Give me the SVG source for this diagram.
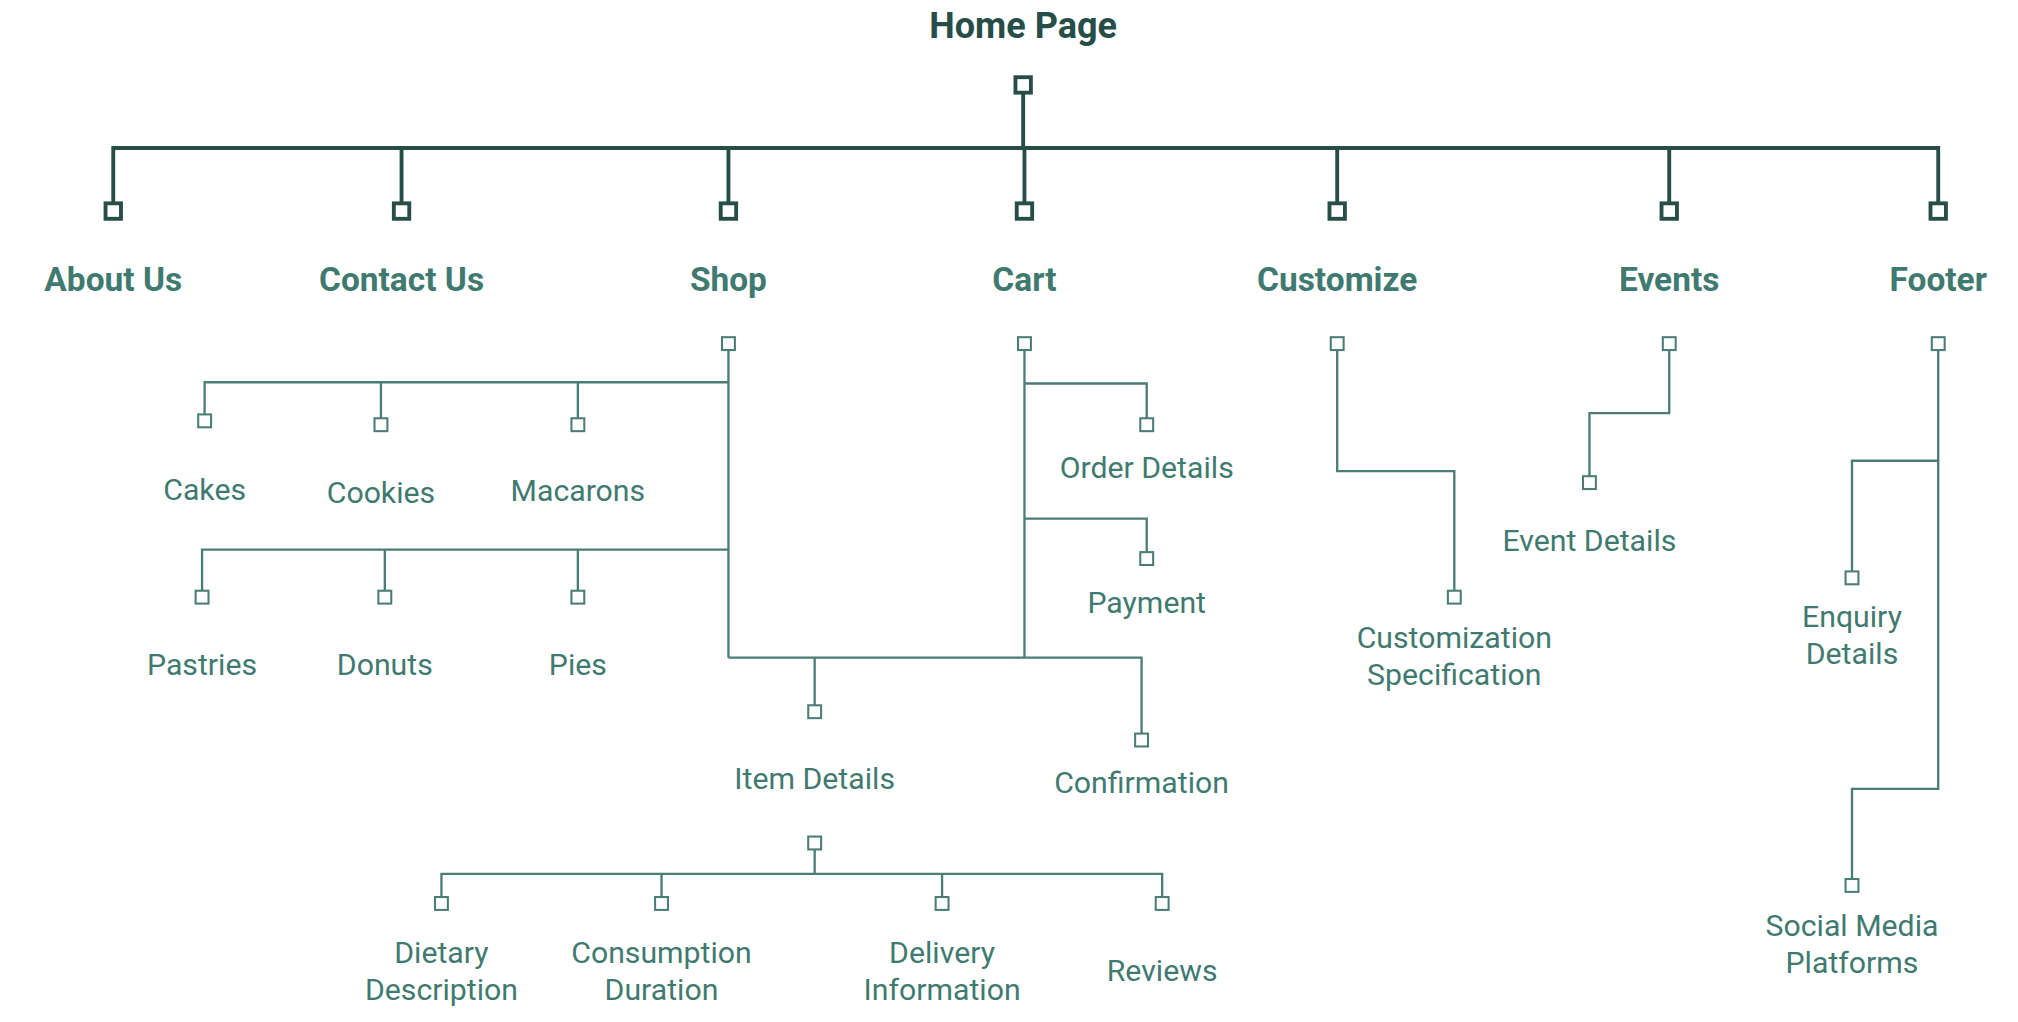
<svg xmlns="http://www.w3.org/2000/svg" width="2018" height="1022" viewBox="0 0 2018 1022">
<style>
.t{font-family:Roboto,"Liberation Sans",sans-serif;text-anchor:middle;dominant-baseline:central}
.h{font-size:28px;font-weight:bold;fill:#264d47}
.l1{font-size:26px;font-weight:bold;fill:#3f7a70}
.l2{font-size:23.5px;fill:#3f7a70}
.c1{fill:none;stroke:#264d47;stroke-width:3}
.c2{fill:none;stroke:#4a7d74;stroke-width:1.8}
.s1{fill:#fff;stroke:#264d47;stroke-width:3}
.s2{fill:#fff;stroke:#4a7d74;stroke-width:1.6}
</style>
<rect width="2018" height="1022" fill="#fff"/>
<g transform="scale(1.287)">
<g id="connectors">
<path class="c1" d="M795 72V115M88 158V115H1506V158M312 115V158M566 115V158M796 115V158M1039 115V158M1297 115V158"/>
<path class="c2" d="M566 272V511M159 322V297H566M296 325V297M449 325V297M157 459V427H566M299 459V427M449 459V427M566 511H887V570M633 511V548M796 272V511M796 298H891V325M796 403H891V429M633 660V679M343 697V679H903V697M514 697V679M732 697V679M1039 272V366H1130V459M1297 272V321H1235V370M1506 272V613H1439V683M1506 358H1439V444"/>
</g>
<g id="home"><text class="t h" x="795" y="20">Home Page</text><rect class="s1" x="789" y="60" width="12" height="12"/></g>
<g id="about"><rect class="s1" x="82" y="158" width="12" height="12"/><text class="t l1" x="88" y="217">About Us</text></g>
<g id="contact"><rect class="s1" x="306" y="158" width="12" height="12"/><text class="t l1" x="312" y="217">Contact Us</text></g>
<g id="shop"><rect class="s1" x="560" y="158" width="12" height="12"/><text class="t l1" x="566" y="217">Shop</text><rect class="s2" x="561" y="262" width="10" height="10"/></g>
<g id="cart"><rect class="s1" x="790" y="158" width="12" height="12"/><text class="t l1" x="796" y="217">Cart</text><rect class="s2" x="791" y="262" width="10" height="10"/></g>
<g id="customize"><rect class="s1" x="1033" y="158" width="12" height="12"/><text class="t l1" x="1039" y="217">Customize</text><rect class="s2" x="1034" y="262" width="10" height="10"/></g>
<g id="events"><rect class="s1" x="1291" y="158" width="12" height="12"/><text class="t l1" x="1297" y="217">Events</text><rect class="s2" x="1292" y="262" width="10" height="10"/></g>
<g id="footer"><rect class="s1" x="1500" y="158" width="12" height="12"/><text class="t l1" x="1506" y="217">Footer</text><rect class="s2" x="1501" y="262" width="10" height="10"/></g>
<g id="cakes"><rect class="s2" x="154" y="322" width="10" height="10"/><text class="t l2" x="159" y="380">Cakes</text></g>
<g id="cookies"><rect class="s2" x="291" y="325" width="10" height="10"/><text class="t l2" x="296" y="383">Cookies</text></g>
<g id="macarons"><rect class="s2" x="444" y="325" width="10" height="10"/><text class="t l2" x="449" y="381">Macarons</text></g>
<g id="pastries"><rect class="s2" x="152" y="459" width="10" height="10"/><text class="t l2" x="157" y="516">Pastries</text></g>
<g id="donuts"><rect class="s2" x="294" y="459" width="10" height="10"/><text class="t l2" x="299" y="516">Donuts</text></g>
<g id="pies"><rect class="s2" x="444" y="459" width="10" height="10"/><text class="t l2" x="449" y="516">Pies</text></g>
<g id="item"><rect class="s2" x="628" y="548" width="10" height="10"/><text class="t l2" x="633" y="605">Item Details</text><rect class="s2" x="628" y="650" width="10" height="10"/></g>
<g id="confirmation"><rect class="s2" x="882" y="570" width="10" height="10"/><text class="t l2" x="887" y="608">Confirmation</text></g>
<g id="order"><rect class="s2" x="886" y="325" width="10" height="10"/><text class="t l2" x="891" y="363">Order Details</text></g>
<g id="payment"><rect class="s2" x="886" y="429" width="10" height="10"/><text class="t l2" x="891" y="468">Payment</text></g>
<g id="dietary"><rect class="s2" x="338" y="697" width="10" height="10"/><text class="t l2" x="343" y="740">Dietary</text><text class="t l2" x="343" y="769">Description</text></g>
<g id="consumption"><rect class="s2" x="509" y="697" width="10" height="10"/><text class="t l2" x="514" y="740">Consumption</text><text class="t l2" x="514" y="769">Duration</text></g>
<g id="delivery"><rect class="s2" x="727" y="697" width="10" height="10"/><text class="t l2" x="732" y="740">Delivery</text><text class="t l2" x="732" y="769">Information</text></g>
<g id="reviews"><rect class="s2" x="898" y="697" width="10" height="10"/><text class="t l2" x="903" y="754">Reviews</text></g>
<g id="custspec"><rect class="s2" x="1125" y="459" width="10" height="10"/><text class="t l2" x="1130" y="495">Customization</text><text class="t l2" x="1130" y="524">Specification</text></g>
<g id="eventdetails"><rect class="s2" x="1230" y="370" width="10" height="10"/><text class="t l2" x="1235" y="420">Event Details</text></g>
<g id="enquiry"><rect class="s2" x="1434" y="444" width="10" height="10"/><text class="t l2" x="1439" y="479">Enquiry</text><text class="t l2" x="1439" y="508">Details</text></g>
<g id="social"><rect class="s2" x="1434" y="683" width="10" height="10"/><text class="t l2" x="1439" y="719">Social Media</text><text class="t l2" x="1439" y="748">Platforms</text></g>
</g>
</svg>
